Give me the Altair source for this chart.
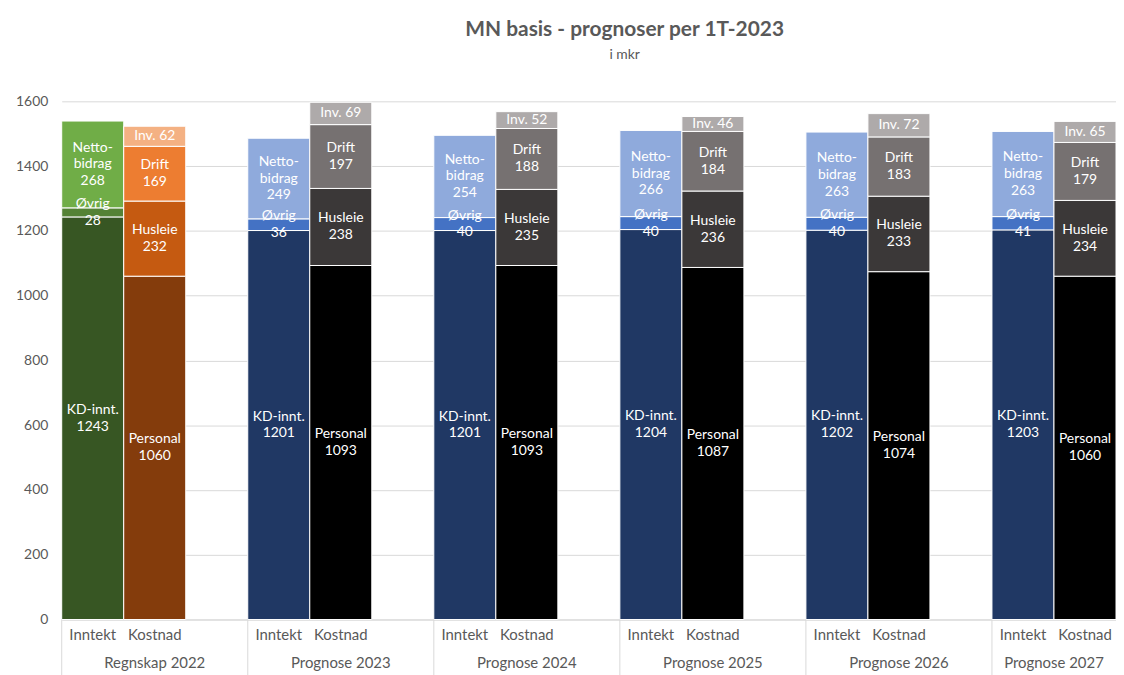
import altair as alt
import pandas as pd

# ---------------- data ----------------
groups = ["Regnskap 2022", "Prognose 2023", "Prognose 2024",
          "Prognose 2025", "Prognose 2026", "Prognose 2027"]
sides = ["Inntekt", "Kostnad"]

kd_innt = [1243, 1201, 1201, 1204, 1202, 1203]
ovrig = [28, 36, 40, 40, 40, 41]
netto_bidrag = [268, 249, 254, 266, 263, 263]

personal = [1060, 1093, 1093, 1087, 1074, 1060]
husleie = [232, 238, 235, 236, 233, 234]
drift = [169, 197, 188, 184, 183, 179]
inv = [62, 69, 52, 46, 72, 65]

# series: name, side, values, label template
series = [
    ("KD-innt.", "Inntekt", kd_innt, "KD-innt.\n{v}"),
    ("Øvrig", "Inntekt", ovrig, "Øvrig\n{v}"),
    ("Netto-bidrag", "Inntekt", netto_bidrag, "Netto-\nbidrag\n{v}"),
    ("Personal", "Kostnad", personal, "Personal\n{v}"),
    ("Husleie", "Kostnad", husleie, "Husleie\n{v}"),
    ("Drift", "Kostnad", drift, "Drift\n{v}"),
    ("Inv.", "Kostnad", inv, "Inv. {v}"),
]

# ---------------- styles ----------------
palette = {
    "R|KD-innt.": "#375623", "R|Øvrig": "#548235", "R|Netto-bidrag": "#70AD47",
    "R|Personal": "#843C0C", "R|Husleie": "#C55A11", "R|Drift": "#ED7D31", "R|Inv.": "#F4B183",
    "P|KD-innt.": "#203864", "P|Øvrig": "#4472C4", "P|Netto-bidrag": "#8FAADC",
    "P|Personal": "#000000", "P|Husleie": "#3B3838", "P|Drift": "#767171", "P|Inv.": "#AEAAAA",
}
FONT = "Lato"
GREY = "#595959"
GRID = "#D9D9D9"
LH = 17

# ---------------- tables ----------------
slots = []
for gi in range(len(groups)):
    for s in sides:
        slots.append(f"{gi}|{s}")
    if gi < len(groups) - 1:
        slots.append(f"{gi}|")

rows = []
for gi, g in enumerate(groups):
    for order, (name, side, vals, tmpl) in enumerate(series):
        lab = tmpl.format(v=vals[gi])
        rows.append({
            "slot": f"{gi}|{side}",
            "group": g,
            "series": name,
            "ord": order,
            "value": vals[gi],
            "label": lab,
            "nlines": lab.count("\n") + 1,
            "ckey": ("R|" if gi == 0 else "P|") + name,
        })
df = pd.DataFrame(rows)

last = len(groups) - 1
df_groups_full = pd.DataFrame({"slot": [f"{gi}|Kostnad" for gi in range(last)],
                               "group": groups[:last]})
df_groups_last = pd.DataFrame({"slot": [f"{last}|Kostnad"], "group": [groups[last]]})
df_sep = pd.DataFrame({"slot": [f"{gi}|Inntekt" for gi in range(len(groups))]})

W, H = 1060, 521

xscale = alt.Scale(domain=slots, paddingInner=0, paddingOuter=0)
xaxis = alt.Axis(title=None, labelExpr="split(datum.value, '|')[1]", ticks=False,
                 domain=True, domainColor=GRID, labelColor=GREY, labelFontSize=15,
                 labelFont=FONT, labelPadding=8, labelAngle=0, grid=False)
yscale = alt.Scale(domain=[0, 1600], nice=False)
yaxis = alt.Axis(title=None, values=list(range(0, 1601, 200)), format="d", grid=True,
                 gridColor=GRID, domain=False, ticks=False, labelColor=GREY,
                 labelFontSize=14, labelFont=FONT, labelPadding=14)

base = alt.Chart(df).transform_stack(
    stack="value", groupby=["slot"], sort=[alt.SortField("ord", order="ascending")],
    as_=["y0", "y1"]
).transform_calculate(mid="(datum.y0 + datum.y1) / 2")

bars = base.mark_bar(stroke="white", strokeWidth=1).encode(
    x=alt.X("slot:N", scale=xscale, axis=xaxis),
    y=alt.Y("y0:Q", scale=yscale, axis=yaxis),
    y2="y1:Q",
    color=alt.Color("ckey:N", scale=alt.Scale(domain=list(palette.keys()),
                                              range=list(palette.values())), legend=None),
)


def label_layer(n):
    return base.transform_filter(f"datum.nlines == {n}").mark_text(
        color="white", fontSize=14, font=FONT, lineBreak="\n", lineHeight=LH,
        baseline="middle", align="center", dy=-(n - 1) * LH / 2
    ).encode(
        x=alt.X("slot:N", scale=xscale, axis=xaxis),
        y=alt.Y("mid:Q", scale=yscale, axis=yaxis),
        text="label:N",
    )


labels = [label_layer(n) for n in (1, 2, 3)]

group_text_full = alt.Chart(df_groups_full).mark_text(
    color=GREY, fontSize=15, font=FONT, baseline="middle").encode(
    x=alt.X("slot:N", scale=xscale, axis=xaxis),
    y=alt.value(H + 44),
    text="group:N",
)
group_text_last = alt.Chart(df_groups_last).mark_text(
    color=GREY, fontSize=15, font=FONT, baseline="middle").encode(
    x=alt.X("slot:N", scale=xscale, axis=xaxis, bandPosition=0),
    y=alt.value(H + 44),
    text="group:N",
)

seps = alt.Chart(df_sep).mark_rule(color=GRID, strokeWidth=1).encode(
    x=alt.X("slot:N", scale=xscale, axis=xaxis, bandPosition=0),
    y=alt.value(H),
    y2=alt.value(H + 56),
)

chart = alt.layer(bars, *labels, seps, group_text_full, group_text_last).properties(
    width=W, height=H,
    title=alt.TitleParams(text="MN basis - prognoser per 1T-2023", subtitle="i mkr",
                          anchor="middle", dx=36, offset=33, font=FONT, fontSize=21,
                          fontWeight="bold", color=GREY, subtitleFont=FONT,
                          subtitleFontSize=14, subtitleColor=GREY, subtitlePadding=8),
    autosize=alt.AutoSizeParams(type="none"),
    padding={"left": 54, "top": 92, "right": 0, "bottom": 56},
).configure_view(stroke=None)

chart.save("out.html", embed_options={"renderer": "svg", "actions": False})
